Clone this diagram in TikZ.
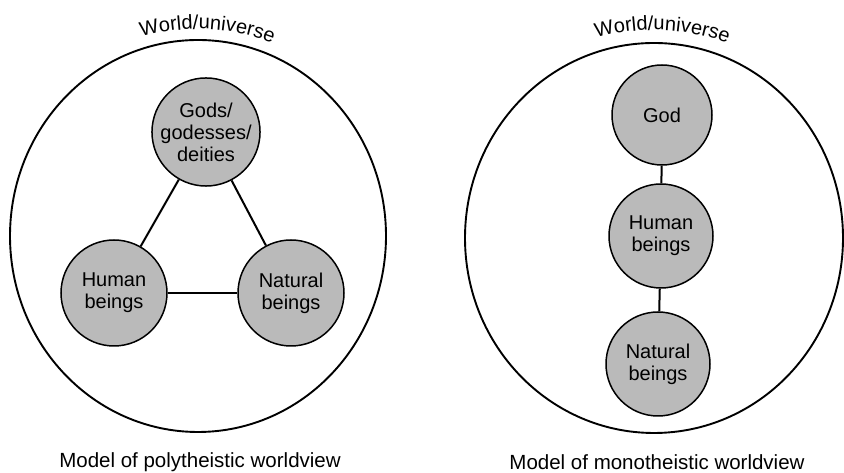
\documentclass[tikz,border=0pt]{standalone}
\usepackage{fontspec}
\setmainfont{Liberation Sans}
\usetikzlibrary{shapes.geometric,decorations.text}
\newcommand{\wfont}{\fontsize{20}{22}\selectfont}
\tikzset{
  world/.style={ellipse, draw, line width=1.9pt, inner sep=0pt},
  being/.style={circle, draw, line width=1.5pt, fill=black!27, inner sep=0pt,
    minimum size=104pt, align=center, font=\fontsize{20}{22}\selectfont},
  link/.style={line width=2pt},
  caption/.style={font=\fontsize{20.5}{22}\selectfont, inner sep=0pt},
}
\begin{document}
\begin{tikzpicture}[x=1pt,y=1pt]
\useasboundingbox (0,0) rectangle (844,473);
% left
\node[world, minimum width=376pt, minimum height=392pt] (Lworld) at (198,237) {};
\node[being] (Lgods) at (206,341) {Gods/\\godesses/\\deities};
\node[being, minimum size=106pt] (Lhuman) at (114,180) {Human\\beings};
\node[being, minimum size=106pt] (Lnatural) at (291,180) {Natural\\beings};
\draw[link] (Lgods) -- (Lhuman);
\draw[link] (Lgods) -- (Lnatural);
\draw[link] (Lhuman) -- (Lnatural);
\path[decorate, decoration={text along path, text align=center,
  text={|\wfont|World/universe}}]
  ([shift={(112.4:207pt)}]Lworld.center) arc[start angle=112.4, end angle=62.4, radius=207pt];
\node[caption] (Lcap) at (200,11) {Model of polytheistic worldview};
% right
\node[world, minimum width=378pt, minimum height=390pt] (Rworld) at (654,235) {};
\node[being, minimum size=100pt] (Rgod) at (662,358) {God};
\node[being] (Rhuman) at (661,237) {Human\\beings};
\node[being] (Rnatural) at (658,109) {Natural\\beings};
\draw[link] (Rgod) -- (Rhuman);
\draw[link] (Rhuman) -- (Rnatural);
\path[decorate, decoration={text along path, text align=center,
  text={|\wfont|World/universe}}]
  ([shift={(112.7:208pt)}]Rworld.center) arc[start angle=112.7, end angle=62.7, radius=208pt];
\node[caption] (Rcap) at (657,11) {Model of monotheistic worldview};
\end{tikzpicture}
\end{document}
